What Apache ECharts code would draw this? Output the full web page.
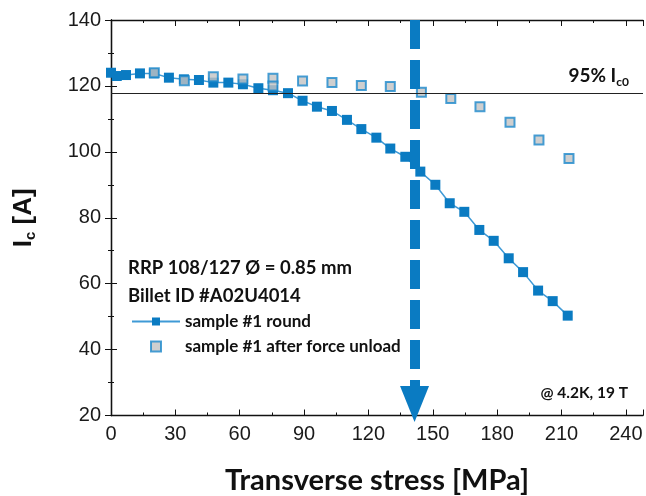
<!DOCTYPE html>
<html>
<head>
<meta charset="utf-8">
<script src="https://cdn.jsdelivr.net/npm/echarts@6/dist/echarts.min.js"></script>
<style>html,body{margin:0;padding:0;background:#fff}#c{width:646px;height:496px}</style>
</head>
<body>
<div id="c"></div>
<script>
var roundX = [0, 2.7, 7, 13.5, 20, 27, 34, 41, 47.7, 54.7, 61.5, 68.7, 75.5, 82.5, 89.3, 96, 103, 110, 116.7, 123.7, 130.2, 137.2, 144.2, 151.2, 157.9, 164.7, 171.7, 178.4, 185.4, 192.1, 199.1, 205.9, 212.9];
var roundY = [124, 123, 123.3, 123.8, 123.8, 122.5, 122, 121.8, 121, 121, 120.5, 119.3, 118.7, 117.8, 115.5, 113.7, 112.4, 109.7, 106.9, 104.3, 101, 98.5, 94, 90, 84.4, 81.8, 76.3, 73, 67.7, 63.5, 57.9, 54.7, 50.3];
var unloadX = [20.2, 34.2, 47.7, 61.5, 75.5, 75.5, 89.3, 103, 116.7, 130.2, 144.7, 158.4, 172, 186, 199.5, 213.5];
var unloadY = [124, 121.6, 122.8, 122.1, 122.3, 120, 121.5, 121, 120.1, 119.8, 118.1, 116.2, 113.7, 109, 103.6, 98];
var xTicks = [0, 30, 60, 90, 120, 150, 180, 210, 240];
var yTicks = [20, 40, 60, 80, 100, 120, 140];
var threshold95 = 117.8;
var arrowX = 141.5;

function zip(a, b) { return a.map(function (v, i) { return [v, b[i]]; }); }

var BLUE = '#0a7bc2';
var FONT = 'Lato';

var chart = echarts.init(document.getElementById('c'));
var axisLine = { show: true, lineStyle: { color: '#111', width: 1.3 } };
chart.setOption({
  animation: false,
  grid: { left: 111, right: 3, top: 20, bottom: 80.5, containLabel: false, outerBoundsMode: 'none' },
  xAxis: [{
    type: 'value', min: 0, max: 248, interval: 30,
    axisLine: axisLine,
    axisTick: { show: true, inside: true, length: 6, lineStyle: { color: '#111' } },
    minorTick: { show: true, splitNumber: 2, length: 3, lineStyle: { color: '#111' } },
    splitLine: { show: false },
    axisLabel: { showMaxLabel: false, fontFamily: 'Liberation Sans', fontSize: 20, color: '#1a1a1a', margin: 9,
      formatter: function (v) { return xTicks.indexOf(v) >= 0 ? String(v) : ''; } },
    name: 'Transverse stress [MPa]', nameLocation: 'middle', nameGap: 51,
    nameTextStyle: { fontFamily: FONT, fontWeight: 'bold', fontSize: 29, color: '#111' }
  }, {
    type: 'value', position: 'top', min: 0, max: 248, interval: 30,
    axisLine: axisLine,
    axisTick: { show: true, inside: true, length: 6, lineStyle: { color: '#111' } },
    minorTick: { show: true, splitNumber: 2, length: 3, lineStyle: { color: '#111' } },
    splitLine: { show: false }, axisLabel: { show: false }
  }],
  yAxis: [{
    type: 'value', min: 20, max: 140, interval: 20,
    axisLine: axisLine,
    axisTick: { show: true, inside: true, length: 6, lineStyle: { color: '#111' } },
    minorTick: { show: true, splitNumber: 2, length: 3, lineStyle: { color: '#111' } },
    splitLine: { show: false },
    axisLabel: { fontFamily: 'Liberation Sans', fontSize: 20, color: '#1a1a1a', margin: 10,
      formatter: function (v) { return yTicks.indexOf(v) >= 0 ? String(v) : ''; } },
    name: '{i|I}{s|c}{i| [A]}', nameLocation: 'middle', nameGap: 73, nameRotate: 90,
    nameTextStyle: { rich: {
      i: { fontFamily: 'Liberation Sans', fontWeight: 'bold', fontSize: 26, color: '#111' },
      s: { fontFamily: 'Liberation Sans', fontWeight: 'bold', fontSize: 15, color: '#111', verticalAlign: 'bottom', padding: [14, 0, 0, 0] }
    } }
  }, {
    type: 'value', position: 'right', min: 20, max: 140, interval: 20,
    axisLine: axisLine,
    axisTick: { show: true, inside: true, length: 6, lineStyle: { color: '#111' } },
    minorTick: { show: true, splitNumber: 2, length: 3, lineStyle: { color: '#111' } },
    splitLine: { show: false }, axisLabel: { show: false }
  }],
  legend: {
    orient: 'vertical', left: 126, top: 308, itemGap: 8, itemWidth: 48, itemHeight: 10,
    symbolKeepAspect: true,
    textStyle: { fontFamily: FONT, fontWeight: 'bold', fontSize: 17, color: '#111' },
    data: [
      { name: 'sample #1 round' },
      { name: 'sample #1 after force unload', icon: 'path://M0,0L10,0L10,10L0,10Z' }
    ]
  },
  graphic: [
    { type: 'text', left: 128, top: 259, style: { text: 'RRP 108/127 Ø = 0.85 mm', font: 'bold 18.5px Lato', fill: '#111' } },
    { type: 'text', left: 128, top: 287, style: { text: 'Billet ID #A02U4014', font: 'bold 18.5px Lato', fill: '#111' } },
    { type: 'text', right: 18, top: 385, style: { text: '@ 4.2K, 19 T', font: 'bold 15.5px Lato', fill: '#111' } }
  ],
  series: [{
    name: 'helper', type: 'line', data: [], silent: true,
    markLine: {
      silent: true, animation: false,
      data: [
        [{ coord: [0, threshold95], symbol: 'none' }, { coord: [248, threshold95], symbol: 'none',
          label: { show: true, position: 'insideEndTop', distance: [14, 5],
            formatter: '{a|95% I}{b|c0}',
            rich: { a: { fontFamily: FONT, fontWeight: 'bold', fontSize: 19, color: '#111' },
                    b: { fontFamily: FONT, fontWeight: 'bold', fontSize: 12, color: '#111', verticalAlign: 'bottom', padding: [12, 0, 0, 0] } } },
          lineStyle: { color: '#222', width: 1.2, type: 'solid' } }],
        [{ coord: [arrowX, 140], symbol: 'none' }, { coord: [arrowX, 23.5], symbol: 'triangle', symbolSize: [29, 36],
          label: { show: false },
          lineStyle: { color: BLUE, width: 10, type: [29, 11] } }]
      ],
      lineStyle: { color: '#222', width: 1.2, type: 'solid' },
      label: { show: false }
    }
  }, {
    name: 'sample #1 round', type: 'line', data: zip(roundX, roundY),
    symbol: 'rect', symbolSize: 10, z: 3,
    itemStyle: { color: BLUE },
    lineStyle: { color: '#3f9ad6', width: 1.5 }
  }, {
    name: 'sample #1 after force unload', type: 'scatter', data: zip(unloadX, unloadY),
    symbol: 'rect', symbolSize: 9, z: 4,
    itemStyle: { color: '#c3c3c3', borderColor: '#1c88cc', borderWidth: 2 }
  }]
});
</script>
</body>
</html>
